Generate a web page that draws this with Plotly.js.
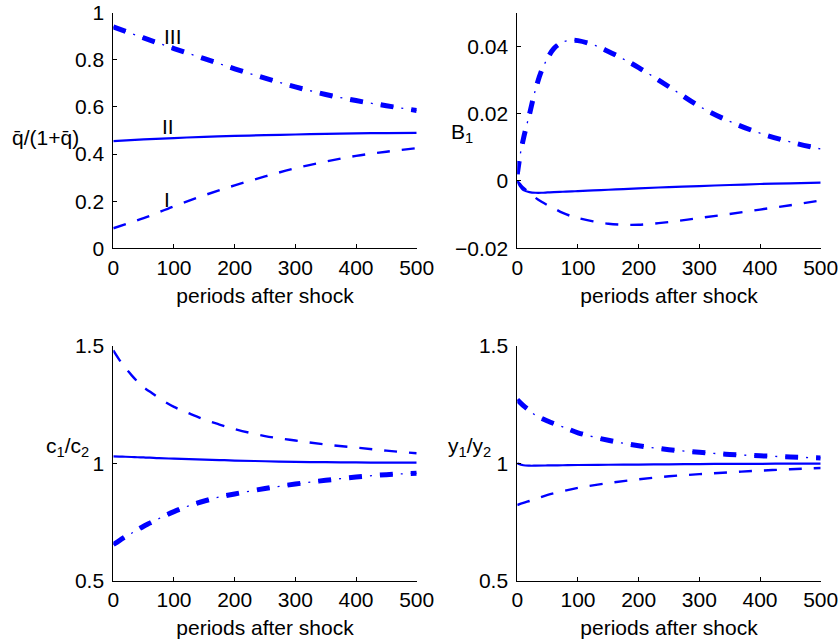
<!DOCTYPE html>
<html>
<head>
<meta charset="utf-8">
<script src="https://cdn.plot.ly/plotly-3.0.1.min.js"></script>
<style>html,body{margin:0;padding:0;background:#fff;}#chart{width:840px;height:641px;}</style>
</head>
<body>
<div id="chart"></div>
<script>
// ---- Data ----
const qT   = [0,50,100,150,200,250,300,350,400,450,500];
const qI   = [0.085,0.128,0.178,0.225,0.267,0.305,0.34,0.368,0.392,0.41,0.425];
const qII  = [0.455,0.462,0.468,0.473,0.477,0.480,0.483,0.486,0.488,0.489,0.49];
const qIII = [0.94,0.893,0.848,0.805,0.762,0.722,0.685,0.653,0.627,0.605,0.585];

const bT   = [0,5,10,20,30,40,50,60,75,90,100,125,150,175,200,250,300,350,400,450,500];
const bI   = [0,-0.001,-0.002,-0.0035,-0.005,-0.0062,-0.0072,-0.0081,-0.0095,-0.0105,-0.011,-0.012,-0.0127,-0.013,-0.013,-0.0122,-0.011,-0.0098,-0.0085,-0.0072,-0.0058];
const bII  = [0,-0.0017,-0.0027,-0.0033,-0.0035,-0.0035,-0.0034,-0.0033,-0.0032,-0.0031,-0.003,-0.0028,-0.0026,-0.0024,-0.0022,-0.0018,-0.0015,-0.0012,-0.0009,-0.0007,-0.0005];
const bIII = [0.002,0.008,0.0125,0.0198,0.0272,0.0328,0.0365,0.0393,0.0413,0.0418,0.0417,0.0405,0.0385,0.0362,0.0337,0.028,0.0222,0.0177,0.0142,0.0116,0.0095];

const cT   = [0,10,20,30,40,50,60,75,100,125,150,175,200,250,300,350,400,450,500];
const cI   = [1.48,1.44,1.405,1.375,1.347,1.323,1.305,1.278,1.24,1.212,1.186,1.165,1.146,1.116,1.097,1.08,1.067,1.054,1.043];
const cII  = [1.03,1.029,1.028,1.027,1.026,1.025,1.024,1.022,1.02,1.018,1.016,1.014,1.012,1.009,1.006,1.005,1.004,1.003,1.003];
const cIII = [0.655,0.672,0.688,0.703,0.718,0.733,0.746,0.765,0.795,0.82,0.84,0.857,0.87,0.893,0.912,0.928,0.942,0.952,0.958];

const yT   = [0,10,20,30,50,75,100,150,200,250,300,350,400,450,500];
const yI   = [0.823,0.832,0.84,0.848,0.866,0.882,0.896,0.916,0.932,0.945,0.954,0.962,0.969,0.975,0.98];
const yII  = [1.0,0.992,0.99,0.99,0.991,0.992,0.993,0.994,0.995,0.996,0.997,0.998,0.998,0.999,0.999];
const yIII = [1.27,1.245,1.225,1.205,1.18,1.155,1.13,1.098,1.075,1.058,1.047,1.038,1.032,1.027,1.023];

const regimeLabels = ['I','II','III'];
const xTitle = 'periods after shock';
const yLabels = ['q\u0304/(1+q\u0304)', 'B<sub>1</sub>', 'c<sub>1</sub>/c<sub>2</sub>', 'y<sub>1</sub>/y<sub>2</sub>'];

// ---- Styles ----
const BLUE = '#0000ff';
const FONT = 'Liberation Sans, Arial, Helvetica, sans-serif';
const lineI     = {color: BLUE, width: 2.4, dash: '13px,12px', shape: 'spline'};
const lineII    = {color: BLUE, width: 2.2, shape: 'spline'};
const lineIIIa  = {color: BLUE, width: 5, dash: '13px,18px', shape: 'spline'};          // thick dashes
const lineIIIb  = {color: BLUE, width: 1.3, dash: '13px,8px,2px,8px', shape: 'spline'}; // thin dots between

function tr(x, y, line, xa, ya) {
  return {x: x, y: y, type: 'scatter', mode: 'lines', line: line, xaxis: xa, yaxis: ya, hoverinfo: 'skip', showlegend: false};
}
function set(t, I, II, III, xa, ya) {
  return [tr(t, I, lineI, xa, ya), tr(t, II, lineII, xa, ya), tr(t, III, lineIIIb, xa, ya), tr(t, III, lineIIIa, xa, ya)];
}

const data = [].concat(
  set(qT, qI, qII, qIII, 'x', 'y'),
  set(bT, bI, bII, bIII, 'x2', 'y2'),
  set(cT, cI, cII, cIII, 'x3', 'y3'),
  set(yT, yI, yII, yIII, 'x4', 'y4')
);

const W = 840, H = 641;
const dxL = [113.3/W, 416.7/W], dxR = [517.3/W, 820.7/W];
const dyT = [(H-248.3)/H, (H-12.7)/H], dyB = [(H-581)/H, (H-345.7)/H];

function xax(dom, anchor) {
  return {domain: dom, anchor: anchor, range: [0, 500], tickvals: [0,100,200,300,400,500],
    showline: true, linecolor: '#000', linewidth: 1, mirror: false, ticks: 'inside', ticklen: 4, tickcolor: '#000',
    showgrid: false, zeroline: false, ticklabelstandoff: 0,
    tickfont: {family: FONT, size: 21, color: '#000'},
    title: {text: xTitle, font: {family: FONT, size: 21, color: '#000'}, standoff: 10}};
}
function yax(dom, anchor, range, tv) {
  return {domain: dom, anchor: anchor, range: range, tickvals: tv,
    showline: true, linecolor: '#000', linewidth: 1, mirror: false, ticks: 'inside', ticklen: 4, tickcolor: '#000',
    showgrid: false, zeroline: false, ticklabelstandoff: 4,
    tickfont: {family: FONT, size: 21, color: '#000'}};
}

const af = {family: FONT, size: 21, color: '#000'};
const annotations = [
  {xref: 'x', yref: 'y', x: 88, y: 0.209, text: regimeLabels[0], showarrow: false, font: af},
  {xref: 'x', yref: 'y', x: 90, y: 0.519, text: regimeLabels[1], showarrow: false, font: af},
  {xref: 'x', yref: 'y', x: 98, y: 0.897, text: regimeLabels[2], showarrow: false, font: af},
  {xref: 'paper', yref: 'paper', x: 81/W, y: (H-137)/H, xanchor: 'right', yanchor: 'middle', text: yLabels[0], showarrow: false, font: af},
  {xref: 'paper', yref: 'paper', x: 449/W, y: (H-133)/H, xanchor: 'left', yanchor: 'middle', text: yLabels[1], showarrow: false, font: af},
  {xref: 'paper', yref: 'paper', x: 91/W, y: (H-447)/H, xanchor: 'right', yanchor: 'middle', text: yLabels[2], showarrow: false, font: af},
  {xref: 'paper', yref: 'paper', x: 446/W, y: (H-447)/H, xanchor: 'left', yanchor: 'middle', text: yLabels[3], showarrow: false, font: af}
];

const layout = {
  width: W, height: H,
  margin: {l: 0, r: 0, t: 0, b: 0},
  paper_bgcolor: '#fff', plot_bgcolor: '#fff',
  font: {family: FONT, size: 21, color: '#000'},
  showlegend: false,
  xaxis: xax(dxL, 'y'), yaxis: yax(dyT, 'x', [0, 1], [0,0.2,0.4,0.6,0.8,1]),
  xaxis2: xax(dxR, 'y2'), yaxis2: yax(dyT, 'x2', [-0.02, 0.05], [-0.02,0,0.02,0.04]),
  xaxis3: xax(dxL, 'y3'), yaxis3: yax(dyB, 'x3', [0.5, 1.5], [0.5,1,1.5]),
  xaxis4: xax(dxR, 'y4'), yaxis4: yax(dyB, 'x4', [0.5, 1.5], [0.5,1,1.5]),
  annotations: annotations
};

Plotly.newPlot('chart', data, layout, {displayModeBar: false, staticPlot: true});
</script>
</body>
</html>
